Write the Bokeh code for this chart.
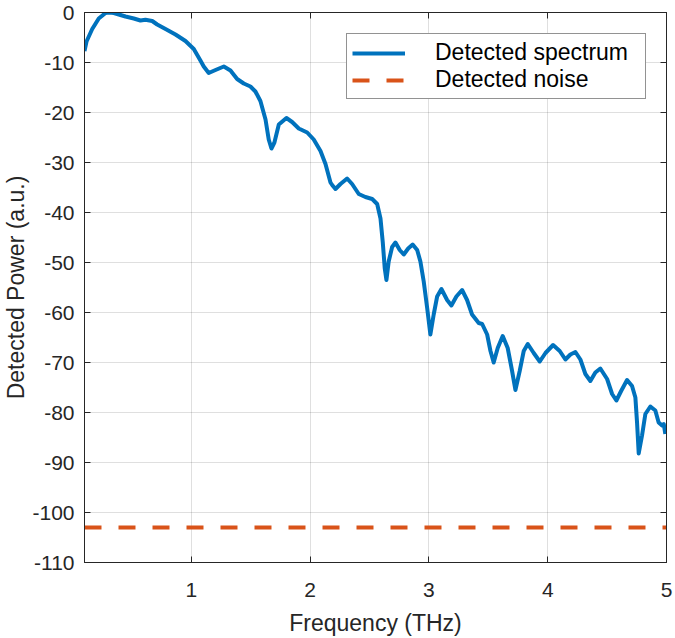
from bokeh.plotting import figure
from bokeh.models import FixedTicker, LinearAxis, Legend, LegendItem, CustomJSTickFormatter
from bokeh.embed import file_html
from bokeh.resources import INLINE

# Detected spectrum (THz, a.u.)
freq = [0.100, 0.117, 0.165, 0.220, 0.277, 0.305, 0.347, 0.403, 0.445, 0.515,
        0.571, 0.613, 0.670, 0.712, 0.782, 0.866, 0.950, 1.020, 1.076, 1.104,
        1.146, 1.203, 1.273, 1.329, 1.385, 1.441, 1.497, 1.539, 1.581, 1.624,
        1.651, 1.674, 1.699, 1.736, 1.800, 1.848, 1.904, 1.975, 2.030, 2.087,
        2.129, 2.171, 2.185, 2.213, 2.255, 2.311, 2.353, 2.409, 2.465, 2.522,
        2.564, 2.592, 2.611, 2.628, 2.642, 2.661, 2.690, 2.718, 2.754, 2.788,
        2.825, 2.863, 2.901, 2.928, 2.956, 2.985, 3.012, 3.040, 3.069, 3.105,
        3.153, 3.189, 3.231, 3.279, 3.321, 3.363, 3.419, 3.448, 3.490, 3.518,
        3.545, 3.579, 3.621, 3.663, 3.700, 3.728, 3.764, 3.798, 3.832, 3.882,
        3.933, 3.981, 4.045, 4.101, 4.149, 4.191, 4.233, 4.275, 4.317, 4.359,
        4.401, 4.443, 4.500, 4.542, 4.578, 4.618, 4.668, 4.710, 4.738, 4.752,
        4.766, 4.794, 4.822, 4.864, 4.906, 4.934, 4.963, 4.977, 4.990]
power = [-7.7, -5.8, -3.3, -1.2, -0.1, 0.0, -0.1, -0.5, -0.8, -1.2,
         -1.6, -1.45, -1.7, -2.4, -3.3, -4.4, -5.7, -7.3, -9.6, -10.8,
         -12.1, -11.5, -10.8, -11.6, -13.3, -14.2, -14.8, -15.8, -17.7, -21.4,
         -25.4, -27.2, -26.0, -22.4, -21.1, -21.9, -23.2, -24.0, -25.4, -27.7,
         -30.3, -34.0, -34.5, -35.3, -34.3, -33.2, -34.3, -36.3, -36.9, -37.3,
         -38.3, -41.2, -45.9, -51.2, -53.5, -49.8, -46.9, -46.0, -47.5, -48.4,
         -47.2, -46.4, -47.5, -49.8, -53.8, -59.1, -64.4, -60.4, -56.8, -55.3,
         -57.5, -58.6, -56.8, -55.5, -57.5, -60.4, -62.1, -62.3, -64.4, -67.7,
         -70.0, -67.1, -64.7, -67.1, -71.7, -75.5, -71.7, -67.7, -66.3, -68.1,
         -69.8, -68.1, -66.5, -67.7, -69.4, -68.4, -67.9, -69.4, -72.3, -73.7,
         -72.0, -71.2, -73.3, -76.3, -77.6, -75.7, -73.5, -74.7, -77.0, -82.0,
         -88.2, -84.6, -80.3, -78.8, -79.6, -82.0, -82.6, -82.3, -84.3]

# Detected noise floor
noise_freq = [0.1, 5.0]
noise_power = [-103.0, -103.0]

x_ticks = [1, 2, 3, 4, 5]
y_ticks = [-110, -100, -90, -80, -70, -60, -50, -40, -30, -20, -10, 0]

FONT = "Liberation Sans"
AX = "#262626"

p = figure(width=675, height=638, x_range=(0.1, 5.0), y_range=(-110, 0),
           output_backend="svg", toolbar_location=None,
           min_border_left=84, min_border_right=9, min_border_top=12,
           min_border_bottom=75,
           x_axis_label="Frequency (THz)", y_axis_label="Detected Power (a.u.)")

p.outline_line_color = AX
p.outline_line_width = 1
p.background_fill_color = "white"

for ax in (p.xaxis[0], p.yaxis[0]):
    ax.major_tick_in = 6
    ax.major_tick_out = 0
    ax.minor_tick_in = 0
    ax.minor_tick_out = 0
    ax.axis_line_color = AX
    ax.major_tick_line_color = AX
    ax.major_label_text_font = FONT
    ax.major_label_text_font_size = "21px"
    ax.major_label_text_color = AX
    ax.axis_label_text_font = FONT
    ax.axis_label_text_font_size = "23px"
    ax.axis_label_text_font_style = "normal"
    ax.axis_label_text_color = AX

p.xaxis[0].ticker = FixedTicker(ticks=x_ticks)
p.yaxis[0].ticker = FixedTicker(ticks=y_ticks)
p.yaxis[0].major_label_overrides = {t: str(t) for t in y_ticks}
p.xaxis[0].major_label_standoff = 20
p.xaxis[0].axis_label_standoff = 10
p.yaxis[0].major_label_standoff = 10
p.yaxis[0].axis_label_standoff = 0

blank = CustomJSTickFormatter(code="return ''")
for loc, ticks in (("above", x_ticks), ("right", y_ticks)):
    extra = LinearAxis(ticker=FixedTicker(ticks=ticks), formatter=blank,
                       major_label_standoff=0,
                       major_tick_in=6, major_tick_out=0,
                       minor_tick_in=0, minor_tick_out=0,
                       axis_line_color=AX, major_tick_line_color=AX)
    p.add_layout(extra, loc)

p.xgrid.ticker = FixedTicker(ticks=x_ticks)
p.ygrid.ticker = FixedTicker(ticks=y_ticks)
p.grid.grid_line_color = AX
p.grid.grid_line_alpha = 0.15
p.grid.grid_line_width = 1

r1 = p.line(freq, power, line_color="#0072BD", line_width=4, line_join="round")
r2 = p.line(noise_freq, noise_power, line_color="#D95319", line_width=4,
            line_dash="17 17")

legend = Legend(items=[LegendItem(label="Detected spectrum", renderers=[r1]),
                       LegendItem(label="Detected noise", renderers=[r2])],
                location=(262, 463))
legend.border_line_color = AX
legend.border_line_width = 1
legend.background_fill_color = "white"
legend.background_fill_alpha = 1.0
legend.label_text_font = FONT
legend.label_text_font_size = "23px"
legend.label_text_color = "black"
legend.glyph_width = 53
legend.glyph_height = 24
legend.label_height = 24
legend.label_width = 205
legend.label_standoff = 30
legend.padding = 5
legend.spacing = 0
legend.margin = 0
p.add_layout(legend)

open("out.html", "w").write(file_html(p, INLINE))
